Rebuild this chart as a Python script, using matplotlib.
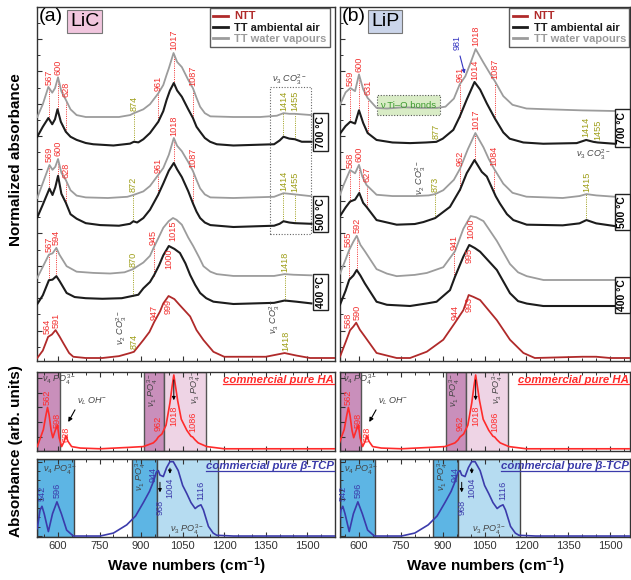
import numpy as np
import matplotlib
matplotlib.use("Agg")
import matplotlib.pyplot as plt
from matplotlib.lines import Line2D
from matplotlib.patches import Rectangle

plt.rcParams['font.family'] = ['Liberation Sans', 'DejaVu Sans']
plt.rcParams['mathtext.fontset'] = 'custom'
plt.rcParams['mathtext.rm'] = 'Liberation Sans'
plt.rcParams['mathtext.it'] = 'Liberation Sans:italic'
plt.rcParams['mathtext.bf'] = 'Liberation Sans:bold'

# ---------------- spectra, LiC (normalised absorbance, 0 = baseline, 1 = main band)
LIC_700_WV_WN = [525, 545, 565, 579, 589, 600, 612, 628, 645, 667, 700, 752, 820, 860, 874, 908, 932, 962, 980, 992,
                 1000, 1017, 1030, 1047, 1070, 1087, 1100, 1113, 1130, 1150, 1233, 1330, 1390, 1414, 1435, 1455, 1515]
LIC_700_WV_A = [0.0, 0.2, 0.47, 0.38, 0.45, 0.62, 0.40, 0.27, 0.12, 0.03, 0.0, 0.0, 0.0, 0.03, 0.06, 0.12, 0.2, 0.37, 0.5, 0.66,
                0.76, 1.0, 0.86, 0.78, 0.58, 0.45, 0.3, 0.16, 0.06, 0.01, 0.0, 0.0, 0.02, 0.06, 0.05, 0.05, 0.03]
LIC_700_AIR_WN = [525, 545, 565, 579, 589, 598, 610, 628, 645, 667, 700, 727, 800, 860, 874, 890, 908, 932, 962, 980,
                  992, 1004, 1018, 1030, 1047, 1070, 1087, 1100, 1113, 1130, 1149, 1173, 1233, 1380, 1400, 1414, 1435, 1455, 1480, 1515]
LIC_700_AIR_A = [0.14, 0.3, 0.44, 0.34, 0.42, 0.58, 0.38, 0.22, 0.14, 0.09, 0.04, 0.02, 0.0, 0.03, 0.06, 0.05, 0.1, 0.2, 0.38, 0.55,
                 0.73, 0.88, 1.0, 0.88, 0.78, 0.58, 0.44, 0.3, 0.22, 0.12, 0.06, 0.02, 0.0, 0.02, 0.08, 0.14, 0.11, 0.10, 0.06, 0.06]
LIC_500_WV_WN = [525, 545, 569, 580, 590, 600, 612, 628, 645, 667, 700, 780, 850, 872, 908, 932, 961, 980, 1000, 1018,
                 1030, 1047, 1070, 1087, 1100, 1113, 1130, 1150, 1233, 1380, 1414, 1435, 1455, 1515]
LIC_500_WV_A = [0.0, 0.25, 0.55, 0.47, 0.52, 0.65, 0.42, 0.3, 0.13, 0.04, 0.01, 0.0, 0.02, 0.05, 0.11, 0.2, 0.38, 0.5, 0.72, 1.0,
                0.87, 0.78, 0.6, 0.45, 0.3, 0.16, 0.06, 0.01, 0.0, 0.02, 0.08, 0.07, 0.06, 0.03]
LIC_500_AIR_WN = [525, 545, 569, 580, 590, 600, 612, 628, 645, 667, 700, 752, 820, 860, 872, 885, 908, 932, 961, 980,
                  1000, 1018, 1030, 1047, 1070, 1087, 1100, 1113, 1130, 1150, 1233, 1380, 1400, 1414, 1435, 1455, 1515]
LIC_500_AIR_A = [0.15, 0.35, 0.6, 0.5, 0.62, 0.8, 0.52, 0.38, 0.2, 0.13, 0.06, 0.03, 0.02, 0.05, 0.09, 0.07, 0.14, 0.27, 0.5, 0.68,
                 0.88, 1.0, 0.9, 0.78, 0.56, 0.37, 0.24, 0.14, 0.07, 0.03, 0.0, 0.02, 0.05, 0.09, 0.07, 0.06, 0.05]
LIC_400_WV_WN = [525, 545, 567, 580, 594, 605, 631, 667, 727, 788, 840, 870, 908, 932, 945, 960, 980, 1000, 1015, 1028,
                 1047, 1070, 1088, 1110, 1125, 1150, 1173, 1233, 1380, 1418, 1450, 1515]
LIC_400_WV_A = [0.02, 0.2, 0.4, 0.42, 0.51, 0.4, 0.21, 0.12, 0.1, 0.09, 0.11, 0.16, 0.27, 0.38, 0.51, 0.65, 0.84, 0.95, 1.0, 0.97,
                0.89, 0.68, 0.54, 0.35, 0.21, 0.12, 0.08, 0.05, 0.05, 0.08, 0.07, 0.06]
LIC_400_AIR_WN = [525, 545, 567, 580, 594, 605, 631, 660, 700, 760, 830, 870, 890, 908, 932, 947, 965, 980, 1000, 1020,
                  1040, 1060, 1077, 1095, 1113, 1135, 1161, 1233, 1380, 1418, 1460, 1515]
LIC_400_AIR_A = [0.0, 0.15, 0.41, 0.42, 0.48, 0.4, 0.19, 0.12, 0.1, 0.09, 0.1, 0.14, 0.16, 0.27, 0.38, 0.5, 0.67, 0.84, 1.0, 0.95,
                 0.88, 0.7, 0.5, 0.33, 0.19, 0.1, 0.04, 0.0, 0.02, 0.06, 0.04, 0.01]
LIC_NTT_WN = [525, 545, 564, 578, 591, 605, 619, 640, 655, 700, 760, 820, 860, 874, 908, 930, 947, 968, 980, 999,
              1020, 1040, 1077, 1100, 1125, 1161, 1200, 1350, 1418, 1460, 1510, 1600]
LIC_NTT_A = [0.0, 0.12, 0.34, 0.38, 0.45, 0.35, 0.24, 0.08, 0.02, 0.0, 0.0, 0.03, 0.08, 0.1, 0.29, 0.42, 0.58, 0.75, 0.88, 1.0,
             0.95, 0.85, 0.67, 0.45, 0.29, 0.1, 0.02, 0.02, 0.08, 0.04, 0.0, 0.0]

# ---------------- spectra, LiP
LIP_700_WV_WN = [532, 552, 569, 586, 600, 615, 631, 663, 700, 760, 820, 880, 910, 940, 961, 981, 1000, 1018, 1046, 1070,
                 1087, 1117, 1150, 1200, 1260, 1400, 1515]
LIP_700_WV_A = [0.1, 0.3, 0.37, 0.32, 0.59, 0.35, 0.21, 0.05, 0.04, 0.06, 0.05, 0.05, 0.07, 0.2, 0.43, 0.56, 0.78, 1.0, 0.78, 0.6,
                0.48, 0.24, 0.1, 0.04, 0.03, 0.01, 0.0]
LIP_700_AIR_WN = [532, 552, 569, 586, 600, 615, 631, 663, 720, 783, 840, 877, 900, 938, 961, 986, 1000, 1014, 1034, 1058,
                  1087, 1117, 1140, 1189, 1260, 1380, 1414, 1440, 1455, 1515]
LIP_700_AIR_A = [0.18, 0.3, 0.37, 0.34, 0.55, 0.35, 0.19, 0.08, 0.04, 0.03, 0.04, 0.05, 0.1, 0.24, 0.45, 0.72, 0.86, 1.0, 0.88, 0.66,
                 0.42, 0.2, 0.1, 0.04, 0.02, 0.03, 0.08, 0.05, 0.04, 0.02]
LIP_500_WV_WN = [532, 545, 568, 586, 600, 612, 627, 663, 720, 800, 850, 873, 902, 940, 962, 990, 1017, 1046, 1065, 1084,
                 1117, 1150, 1200, 1330, 1390, 1415, 1450, 1515]
LIP_500_WV_A = [0.05, 0.2, 0.43, 0.38, 0.51, 0.33, 0.2, 0.05, 0.03, 0.03, 0.04, 0.06, 0.12, 0.28, 0.45, 0.75, 1.0, 0.78, 0.6, 0.45,
                0.22, 0.08, 0.02, 0.0, 0.03, 0.06, 0.04, 0.02]
LIP_500_AIR_WN = [532, 552, 568, 586, 601, 615, 627, 663, 735, 800, 831, 873, 926, 962, 986, 1014, 1040, 1058, 1090, 1105,
                  1130, 1153, 1201, 1330, 1390, 1415, 1450, 1515]
LIP_500_AIR_A = [0.15, 0.28, 0.37, 0.4, 0.5, 0.35, 0.29, 0.09, 0.02, 0.03, 0.06, 0.12, 0.29, 0.55, 0.8, 1.0, 0.82, 0.75, 0.45, 0.34,
                 0.18, 0.09, 0.02, 0.01, 0.04, 0.09, 0.04, 0.0]
LIP_400_WV_WN = [532, 552, 565, 580, 592, 605, 621, 663, 700, 735, 800, 843, 902, 944, 974, 1000, 1020, 1046, 1094, 1141,
                 1170, 1201, 1261, 1515]
LIP_400_WV_A = [0.1, 0.32, 0.47, 0.6, 0.69, 0.55, 0.45, 0.17, 0.1, 0.06, 0.08, 0.11, 0.2, 0.45, 0.8, 1.0, 0.98, 0.92, 0.61, 0.25,
                0.12, 0.06, 0.0, 0.0]
LIP_400_AIR_WN = [532, 552, 565, 580, 592, 605, 621, 663, 700, 783, 840, 878, 926, 944, 974, 995, 1015, 1034, 1094, 1141,
                  1170, 1201, 1260, 1515]
LIP_400_AIR_A = [0.02, 0.25, 0.43, 0.5, 0.59, 0.5, 0.37, 0.07, 0.02, 0.0, 0.04, 0.07, 0.26, 0.48, 0.81, 1.0, 0.95, 0.89, 0.59, 0.21,
                 0.08, 0.04, 0.0, 0.0]
LIP_NTT_WN = [532, 552, 568, 580, 590, 603, 621, 663, 735, 783, 843, 902, 944, 974, 993, 1010, 1034, 1094, 1141, 1189,
              1230, 1400, 1450, 1500, 1571]
LIP_NTT_A = [0.02, 0.25, 0.44, 0.5, 0.56, 0.45, 0.34, 0.08, 0.0, 0.0, 0.1, 0.29, 0.56, 0.76, 1.0, 0.97, 0.92, 0.6, 0.29, 0.08,
             0.0, 0.02, 0.02, 0.0, 0.0]

# ---------------- reference powders
HA_WN = [525, 547, 556, 562, 568, 575, 581, 590, 598, 604, 613, 622, 628, 636, 649, 680, 752, 860, 908, 944,
         955, 962, 975, 990, 1004, 1012, 1018, 1024, 1032, 1045, 1065, 1080, 1086, 1095, 1106, 1137, 1200, 1600]
HA_A = [0.03, 0.26, 0.45, 0.56, 0.45, 0.25, 0.15, 0.25, 0.32, 0.15, 0.03, 0.1, 0.18, 0.1, 0.03, 0.01, 0.0, 0.02, 0.03, 0.08,
        0.12, 0.16, 0.2, 0.32, 0.62, 0.85, 1.0, 0.85, 0.65, 0.4, 0.25, 0.17, 0.16, 0.12, 0.08, 0.03, 0.0, 0.0]
TCP_WN = [525, 535, 542, 550, 565, 580, 596, 612, 631, 655, 752, 800, 848, 880, 908, 930, 944, 955, 962, 968,
          980, 992, 1004, 1016, 1034, 1050, 1065, 1080, 1095, 1105, 1116, 1125, 1143, 1160, 1173, 1233, 1600]
TCP_A = [0.1, 0.35, 0.4, 0.3, 0.06, 0.3, 0.46, 0.3, 0.08, 0.0, 0.0, 0.04, 0.15, 0.27, 0.45, 0.6, 0.73, 0.86, 0.88, 0.82,
         0.8, 0.92, 1.0, 1.0, 0.88, 0.68, 0.57, 0.45, 0.37, 0.4, 0.42, 0.35, 0.13, 0.04, 0.01, 0.0, 0.0]

HA_PEAKS = [('562', 0.70), ('598', 0.39), ('628', 0.19), ('962', 0.35), ('1018', 0.45), ('1086', 0.36)]
TCP_PEAKS = [('542', 0.57), ('596', 0.61), ('944', 0.83), ('968', 0.39), ('1004', 0.65), ('1116', 0.61)]

# band labels on the stacked spectra: (curve, text, colour, above/below the curve, sideways nudge in cm-1)
LIC_LABELS = [
    ('g700', '567', 'r', 'up', 0), ('g700', '600', 'r', 'up', 0), ('g700', '628', 'r', 'up', 0),
    ('g700', '874', 'o', 'up', 0), ('g700', '961', 'r', 'up', 0), ('g700', '1017', 'r', 'up', 0),
    ('g700', '1087', 'r', 'up', 0), ('g700', '1414', 'o', 'up', 0), ('g700', '1455', 'o', 'up', 0),
    ('g500', '569', 'r', 'up', 0), ('g500', '600', 'r', 'up', 0), ('g500', '628', 'r', 'up', 0),
    ('g500', '872', 'o', 'up', 0), ('g500', '961', 'r', 'up', 0), ('g500', '1018', 'r', 'up', 0),
    ('g500', '1087', 'r', 'up', 0), ('g500', '1414', 'o', 'up', 0), ('g500', '1455', 'o', 'up', 0),
    ('g400', '567', 'r', 'up', 0), ('g400', '594', 'r', 'up', 0), ('g400', '870', 'o', 'up', 0),
    ('g400', '945', 'r', 'up', 0), ('g400', '1015', 'r', 'down', 0), ('g400', '1418', 'o', 'up', 0),
    ('b400', '1000', 'r', 'down', 0),
    ('ntt', '564', 'r', 'up', -3), ('ntt', '591', 'r', 'up', 2), ('ntt', '874', 'o', 'up', 0),
    ('ntt', '947', 'r', 'up', 0), ('ntt', '999', 'r', 'down', 0), ('ntt', '1418', 'o', 'up', 6),
]
LIP_LABELS = [
    ('g700', '569', 'r', 'up', 0), ('g700', '600', 'r', 'up', 0), ('g700', '631', 'r', 'up', 0),
    ('g700', '961', 'r', 'up', 0), ('g700', '1018', 'r', 'up', 0), ('g700', '1087', 'r', 'up', 0),
    ('b700', '1014', 'r', 'up', 0), ('b700', '877', 'o', 'up', 0), ('b700', '1414', 'o', 'up', 0),
    ('b700', '1455', 'o', 'up', 0),
    ('g500', '568', 'r', 'up', 0), ('g500', '600', 'r', 'up', 0), ('g500', '627', 'r', 'up', 0),
    ('g500', '873', 'o', 'up', 0), ('g500', '962', 'r', 'up', 0), ('g500', '1017', 'r', 'up', 0),
    ('g500', '1084', 'r', 'up', 0), ('g500', '1415', 'o', 'up', 0),
    ('g400', '565', 'r', 'up', -2), ('g400', '592', 'r', 'up', 2), ('g400', '941', 'r', 'up', 0),
    ('g400', '1000', 'r', 'down', 0), ('b400', '995', 'r', 'down', 0),
    ('ntt', '568', 'r', 'up', -5), ('ntt', '590', 'r', 'up', 3), ('ntt', '944', 'r', 'up', 0),
    ('ntt', '993', 'r', 'down', 0),
]
# dotted guides joining the two spectra of one temperature
LIC_GUIDES = [('g700', 'b700', [567, 600, 628, 961, 1017, 1087], 'r'), ('g700', 'b700', [874, 1414, 1455], 'o'),
              ('g500', 'b500', [569, 600, 628, 961, 1018, 1087], 'r'), ('g500', 'b500', [872, 1414, 1455], 'o'),
              ('g400', 'b400', [567, 594, 945], 'r'), ('g400', 'b400', [870, 1418], 'o')]
LIP_GUIDES = [('g700', 'b700', [569, 600, 631, 961, 1087], 'r'),
              ('g500', 'b500', [568, 600, 627, 962, 1017, 1084], 'r'), ('g500', 'b500', [873, 1415], 'o'),
              ('g400', 'b400', [565, 592, 941], 'r')]

TEMPS = ['700 °C', '500 °C', '400 °C']
WN_TICKS = [600, 750, 900, 1050, 1200, 1350, 1500]

GRAY, BLACK, NTT = '#9c9c9c', '#1c1c1c', '#b02a2a'
PEAK, OLIVE = '#f2302f', '#9e9e18'
HA_RED, TCP_BLUE = '#ff2b2b', '#3b3bab'
KIND = {'r': PEAK, 'o': OLIVE}
CURVE_STYLE = {'g': (GRAY, 1.3), 'b': (BLACK, 1.5), 'n': (NTT, 1.3)}

LIC = dict(
    curves={'g700': (LIC_700_WV_WN, LIC_700_WV_A), 'b700': (LIC_700_AIR_WN, LIC_700_AIR_A),
            'g500': (LIC_500_WV_WN, LIC_500_WV_A), 'b500': (LIC_500_AIR_WN, LIC_500_AIR_A),
            'g400': (LIC_400_WV_WN, LIC_400_WV_A), 'b400': (LIC_400_AIR_WN, LIC_400_AIR_A),
            'ntt': (LIC_NTT_WN, LIC_NTT_A)},
    stack={'g700': (244, 64), 'b700': (215.5, 62.5), 'g500': (163, 60), 'b500': (134, 64),
           'g400': (82, 61), 'b400': (57, 58), 'ntt': (3, 62)},
    labels=LIC_LABELS, guides=LIC_GUIDES, xlim=(524, 1600), x=(37, 335),
    temp_x=1549, temp_y=[229, 147, 69],
    tag='(a)', name='LiC', name_fc='#f1c6de', name_x=0.111,
)
LIP = dict(
    curves={'g700': (LIP_700_WV_WN, LIP_700_WV_A), 'b700': (LIP_700_AIR_WN, LIP_700_AIR_A),
            'g500': (LIP_500_WV_WN, LIP_500_WV_A), 'b500': (LIP_500_AIR_WN, LIP_500_AIR_A),
            'g400': (LIP_400_WV_WN, LIP_400_WV_A), 'b400': (LIP_400_AIR_WN, LIP_400_AIR_A),
            'ntt': (LIP_NTT_WN, LIP_NTT_A)},
    stack={'g700': (250, 62), 'b700': (216, 63), 'g500': (163, 65), 'b500': (135, 66),
           'g400': (81, 64), 'b400': (55, 61), 'ntt': (3, 63)},
    labels=LIP_LABELS, guides=LIP_GUIDES, xlim=(532, 1571), x=(340, 630),
    temp_x=1543, temp_y=[233, 149, 66],
    tag='(b)', name='LiP', name_fc='#cbd5ea', name_x=0.108,
)


def stacked(col, key):
    x, a = col['curves'][key]
    off, span = col['stack'][key]
    return np.asarray(x, float), off + span * np.asarray(a, float)


def level(col, key, wn):
    x, y = stacked(col, key)
    return float(np.interp(wn, x, y))


def style_ticks(ax, top=True):
    ax.set_xticks(WN_TICKS)
    ax.set_xticks(np.arange(550, 1600, 50), minor=True)
    ax.tick_params(which='both', direction='in', top=top, right=False, colors='#333', labelsize=8, pad=3)
    ax.tick_params(which='major', length=3.5, width=0.8)
    ax.tick_params(which='minor', length=2, width=0.7)
    for s in ax.spines.values():
        s.set_linewidth(1.0)
        s.set_color('#333')


def draw_top(ax, col):
    for key in ['g700', 'b700', 'g500', 'b500', 'g400', 'b400', 'ntt']:
        x, y = stacked(col, key)
        color, lw = CURVE_STYLE[key[0]]
        ax.plot(x, y, color=color, lw=lw, zorder=3, solid_joinstyle='round')
    for up, low, wns, kind in col['guides']:
        for wn in wns:
            ax.plot([wn, wn], [level(col, low, wn), level(col, up, wn)], color=KIND[kind],
                    lw=0.7, ls=(0, (1, 1.3)), zorder=2)
    for key, txt, kind, where, nudge in col['labels']:
        wn = float(txt)
        y = level(col, key, wn)
        if where == 'up':
            ax.text(wn + nudge, y + 2.5, txt, rotation=90, ha='center', va='bottom', fontsize=6.6,
                    color=KIND[kind], zorder=5)
        else:
            ax.text(wn + nudge, y - 2.5, txt, rotation=90, ha='center', va='top', fontsize=6.6,
                    color=KIND[kind], zorder=5)
    for txt, y in zip(TEMPS, col['temp_y']):
        ax.text(col['temp_x'], y, txt, rotation=90, ha='center', va='center', fontsize=7.5, fontweight='bold',
                bbox=dict(boxstyle='square,pad=0.25', fc='white', ec='#222', lw=1.0), zorder=6)
    ax.text(0.006, 0.996, col['tag'], transform=ax.transAxes, fontsize=14, ha='left', va='top')
    ax.text(col['name_x'], 0.958, col['name'], transform=ax.transAxes, fontsize=14, ha='left', va='center',
            bbox=dict(boxstyle='square,pad=0.15', fc=col['name_fc'], ec='#777', lw=0.8))
    handles = [Line2D([], [], color=NTT, lw=2), Line2D([], [], color=BLACK, lw=2), Line2D([], [], color=GRAY, lw=2)]
    right = 0.983 if col is LIC else 0.998
    leg = ax.legend(handles, ['NTT', 'TT ambiental air', 'TT water vapours'], loc='upper right',
                    bbox_to_anchor=(right, 0.997), prop={'weight': 'bold', 'size': 8}, frameon=True,
                    fancybox=False, edgecolor='#333', handlelength=1.3, handletextpad=0.6, borderpad=0.3,
                    labelspacing=0.12, borderaxespad=0)
    leg.get_frame().set_linewidth(1.0)
    for t, c in zip(leg.get_texts(), [NTT, BLACK, GRAY]):
        t.set_color(c)
    ax.set_xlim(*col['xlim'])
    ax.set_ylim(0, 354)
    ax.set_yticks(np.arange(30.4, 354, 32.4))
    ax.set_yticks(np.arange(14.2, 354, 16.2), minor=True)
    ax.tick_params(axis='y', which='both', labelleft=False, direction='in')
    style_ticks(ax, top=False)
    ax.tick_params(axis='x', labelbottom=False)


def underline(fig, text, color):
    fig.canvas.draw()
    bb = text.get_window_extent()
    inv = fig.transFigure.inverted()
    (x0, y0), (x1, _) = inv.transform([(bb.x0, bb.y0 + 0.5), (bb.x1, bb.y0)])
    fig.add_artist(Line2D([x0, x1], [y0, y0], color=color, lw=0.9))


def draw_ha(ax, xlim):
    ax.axvspan(xlim[0], 608, fc='#c98fbb', ec='#555', lw=1.0, zorder=0)
    ax.axvspan(910, 983, fc='#c98fbb', ec='#555', lw=1.0, zorder=0)
    ax.axvspan(983, 1133, fc='#eed4e5', ec='#555', lw=1.0, zorder=0)
    ax.plot(HA_WN, HA_A, color=HA_RED, lw=1.2, zorder=3)
    for txt, y in HA_PEAKS:
        ax.text(float(txt), y, txt, rotation=90, ha='center', va='center', fontsize=6.6, color=HA_RED, zorder=5)
    grey = '#444'
    ax.text(542, 0.93, r'$\nu_4\ PO_4^{3-}$', fontsize=6.5, color=grey, ha='left', va='center')
    ax.text(943, 0.80, r'$\nu_1\ PO_4^{3-}$', fontsize=6.5, color=grey, ha='center', va='center', rotation=90)
    ax.text(1097, 0.84, r'$\nu_3\ PO_4^{3-}$', fontsize=6.5, color=grey, ha='center', va='center', rotation=90)
    ax.text(669, 0.64, r'$\nu_L\ OH^{-}$', fontsize=6.5, color=grey, ha='left', va='center')
    ax.annotate('', xy=(632, 0.33), xytext=(666, 0.56),
                arrowprops=dict(arrowstyle='-|>', color='k', lw=0.8, mutation_scale=6))
    ax.annotate('', xy=(1018, 0.62), xytext=(1018, 0.97),
                arrowprops=dict(arrowstyle='-|>', color='k', lw=0.7, mutation_scale=5))
    t = ax.text(0.995, 0.90, 'commercial pure HA', transform=ax.transAxes, ha='right', va='center',
                color=HA_RED, fontsize=8.2, fontweight='bold', style='italic')
    ax.set_xlim(*xlim)
    ax.set_ylim(-0.03, 1.04)
    ax.set_yticks(np.arange(0.16, 1.0, 0.2))
    style_ticks(ax)
    ax.tick_params(axis='y', labelleft=False)
    ax.tick_params(axis='x', labelbottom=False)
    return t


def draw_tcp(ax, xlim):
    ax.axvspan(xlim[0], 656, fc='#5db5e4', ec='#444', lw=1.0, zorder=0)
    ax.axvspan(866, 956, fc='#5db5e4', ec='#444', lw=1.0, zorder=0)
    ax.axvspan(956, 1178, fc='#b6dcf1', ec='#444', lw=1.0, zorder=0)
    ax.plot(TCP_WN, TCP_A, color=TCP_BLUE, lw=1.2, zorder=3)
    for txt, y in TCP_PEAKS:
        ax.text(float(txt), y, txt, rotation=90, ha='center', va='center', fontsize=6.6, color=TCP_BLUE, zorder=5)
    grey = '#444'
    ax.text(546, 0.89, r'$\nu_4\ PO_4^{3-}$', fontsize=6.5, color=grey, ha='left', va='center')
    ax.text(899, 0.84, r'$\nu_1\ PO_4^{3-}$', fontsize=6.5, color=grey, ha='center', va='center', rotation=90)
    ax.text(1065, 0.08, r'$\nu_3\ PO_4^{3-}$', fontsize=6.5, color=grey, ha='center', va='center')
    for wn, y0, y1 in [(968, 0.76, 0.55), (1004, 0.95, 0.80)]:
        ax.annotate('', xy=(wn, y1), xytext=(wn, y0),
                    arrowprops=dict(arrowstyle='-|>', color='k', lw=0.7, mutation_scale=5))
    t = ax.text(0.995, 0.91, 'commercial pure β-TCP', transform=ax.transAxes, ha='right',
                va='center', color=TCP_BLUE, fontsize=8.2, fontweight='bold', style='italic')
    ax.set_xlim(*xlim)
    ax.set_ylim(-0.013, 1.036)
    ax.set_yticks([0, 0.5, 1.0])
    ax.set_yticks(np.arange(0, 1.01, 0.125), minor=True)
    style_ticks(ax)
    ax.tick_params(axis='y', which='both', labelleft=False)
    ax.set_xticklabels([str(v) for v in WN_TICKS])
    ax.set_xlabel('Wave numbers (cm$^{\\mathbf{-1}}$)', fontsize=11, fontweight='bold', labelpad=3)
    return t


W, H = 631, 580
fig = plt.figure(figsize=(W / 100, H / 100), dpi=100)


def rect(x0, x1, y_top, y_bot):
    return [x0 / W, 1 - y_bot / H, (x1 - x0) / W, (y_bot - y_top) / H]


notes = []
for col in (LIC, LIP):
    x0, x1 = col['x']
    ax_top = fig.add_axes(rect(x0, x1, 7, 361))
    ax_ha = fig.add_axes(rect(x0, x1, 372, 451))
    ax_tcp = fig.add_axes(rect(x0, x1, 459, 537))
    draw_top(ax_top, col)
    notes.append((draw_ha(ax_ha, col['xlim']), HA_RED))
    notes.append((draw_tcp(ax_tcp, col['xlim']), TCP_BLUE))

    if col is LIC:
        ax_top.add_patch(Rectangle((1365, 127), 148, 147, fill=False, ec='#666', lw=0.8, ls=(0, (1, 1.5)), zorder=2))
        ax_top.text(1437, 281, r'$\nu_3\ CO_3^{2-}$', fontsize=6.5, color='#444', ha='center', va='center')
        ax_top.text(831, 33, r'$\nu_2\ CO_3^{2-}$', fontsize=6.5, color='#444', ha='center', va='center', rotation=90)
        ax_top.text(1384, 44, r'$\nu_3\ CO_3^{2-}$', fontsize=6.5, color='#444', ha='center', va='center', rotation=90)
    else:
        ax_top.add_patch(Rectangle((665, 246), 225, 20, fc='#d9ecc6', ec='#555', lw=0.8, ls=(0, (1, 1.5)), zorder=2))
        ax_top.text(777, 256, 'ν Ti–O bonds', fontsize=6.8, color='#3c9a2e', ha='center', va='center', zorder=4)
        ax_top.text(1439, 206, r'$\nu_3\ CO_3^{2-}$', fontsize=6.5, color='#444', ha='center', va='center')
        ax_top.text(822, 183, r'$\nu_2\ CO_3^{2-}$', fontsize=6.5, color='#444', ha='center', va='center', rotation=90)
        ax_top.annotate('981', xy=(981, level(col, 'g700', 981)), xytext=(950, 318), rotation=90,
                        ha='center', va='center', fontsize=6.5, color='#3434c0',
                        arrowprops=dict(arrowstyle='-|>', color='#3434c0', lw=0.8, mutation_scale=5))

fig.text(0.025, 0.724, 'Normalized absorbance', rotation=90, ha='center', va='center', fontsize=11, fontweight='bold')
fig.text(0.025, 0.222, 'Absorbance (arb. units)', rotation=90, ha='center', va='center', fontsize=11,
         fontweight='bold')

for t, c in notes:
    underline(fig, t, c)

fig.savefig('out.png', dpi=100)
